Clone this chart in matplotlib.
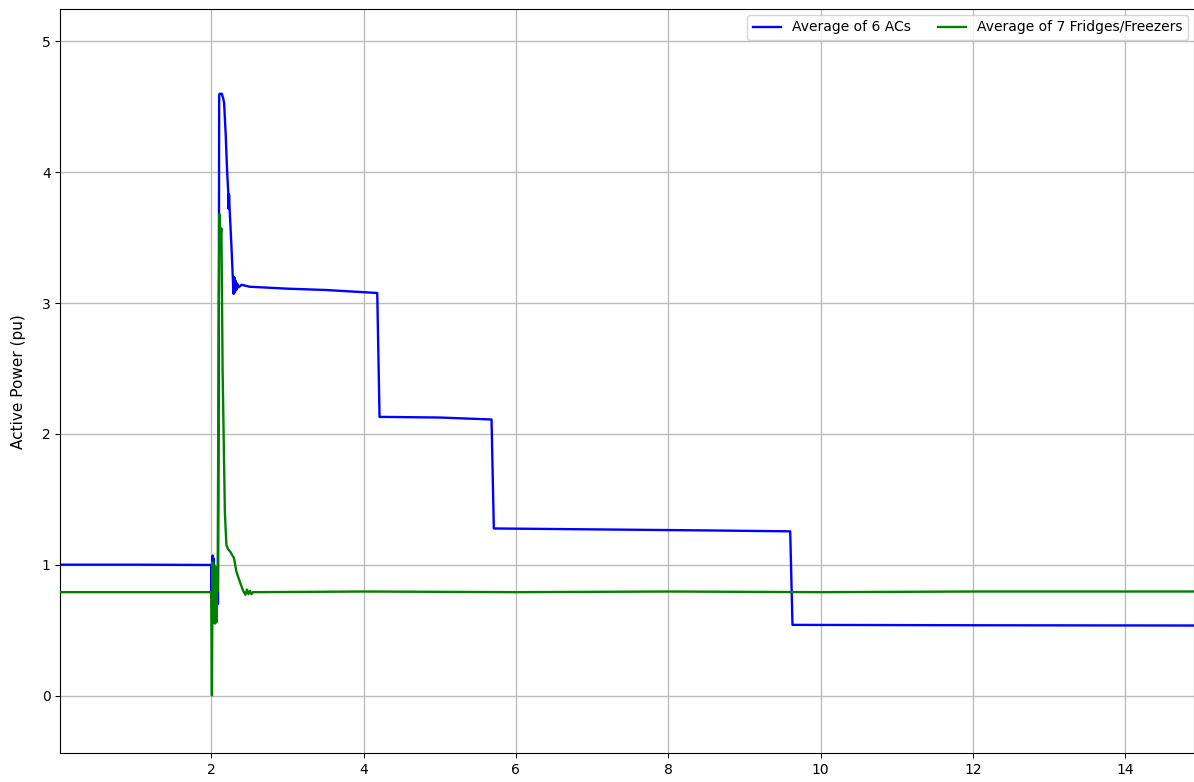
import matplotlib
matplotlib.use("Agg")
import matplotlib.pyplot as plt

# Average of 6 ACs (time s, active power pu)
ac_t = [0.02, 1.0, 1.99, 2.0, 2.005, 2.01, 2.015, 2.02, 2.025, 2.03, 2.04, 2.09,
        2.10, 2.105, 2.11, 2.14, 2.16, 2.17, 2.19, 2.21, 2.225, 2.23, 2.235, 2.24,
        2.265, 2.29, 2.295, 2.30, 2.305, 2.31, 2.315, 2.32, 2.33, 2.34, 2.36, 2.40,
        2.5, 3.0, 3.5, 4.18, 4.21, 5.0, 5.68, 5.71, 7.0, 8.5, 9.6, 9.63, 12.0, 14.9]
ac_p = [1.0, 1.0, 0.998, 0.99, 0.80, 0.95, 0.82, 1.07, 0.85, 1.05, 0.70, 0.70,
        2.5, 4.58, 4.60, 4.60, 4.56, 4.53, 4.30, 4.00, 3.84, 3.72, 3.83, 3.75,
        3.45, 3.12, 3.07, 3.20, 3.08, 3.19, 3.09, 3.17, 3.10, 3.15, 3.12, 3.14,
        3.125, 3.11, 3.10, 3.077, 2.13, 2.125, 2.11, 1.277, 1.27, 1.262, 1.255, 0.54, 0.537, 0.535]

# Average of 7 Fridges/Freezers
fr_t = [0.02, 1.0, 1.99, 2.0, 2.01, 2.015, 2.02, 2.03, 2.04, 2.05, 2.06, 2.07, 2.08, 2.085,
        2.10, 2.11, 2.12, 2.135, 2.15, 2.18, 2.20, 2.22, 2.25, 2.28, 2.30, 2.33, 2.37,
        2.42, 2.45, 2.47, 2.49, 2.51, 2.53, 2.55, 2.6, 4.0, 6.0, 8.0, 10.0, 12.0, 14.0, 14.9]
fr_p = [0.79, 0.79, 0.79, 0.79, 0.0, 0.55, 1.02, 0.56, 1.0, 0.55, 0.98, 0.56, 0.90, 0.8,
        3.0, 3.68, 3.50, 3.57, 2.50, 1.40, 1.15, 1.12, 1.10, 1.07, 1.05, 0.95, 0.88,
        0.80, 0.77, 0.81, 0.775, 0.80, 0.775, 0.79, 0.79, 0.795, 0.79, 0.795, 0.79, 0.795, 0.795, 0.795]

fig = plt.figure(figsize=(11.94, 7.82), dpi=100)
ax = fig.add_axes([0.0505, 0.037, 0.9495, 0.951])
ax.plot(ac_t, ac_p, color="blue", lw=1.7, label="Average of 6 ACs", zorder=2)
ax.plot(fr_t, fr_p, color="green", lw=1.7, label="Average of 7 Fridges/Freezers", zorder=3)
ax.set_xlim(0.02, 14.9)
ax.set_ylim(-0.44, 5.245)
ax.set_xticks([2, 4, 6, 8, 10, 12, 14])
ax.set_yticks([0, 1, 2, 3, 4, 5])
ax.grid(True, color="#bdbdbd", lw=1.0)
ax.set_axisbelow(True)
ax.tick_params(labelsize=10)
ax.set_ylabel("Active Power (pu)", fontsize=11, labelpad=11)
ax.legend(loc="upper right", ncol=2, fontsize=10, framealpha=0.8, borderaxespad=0.4)
fig.savefig("out.png", dpi=100)
